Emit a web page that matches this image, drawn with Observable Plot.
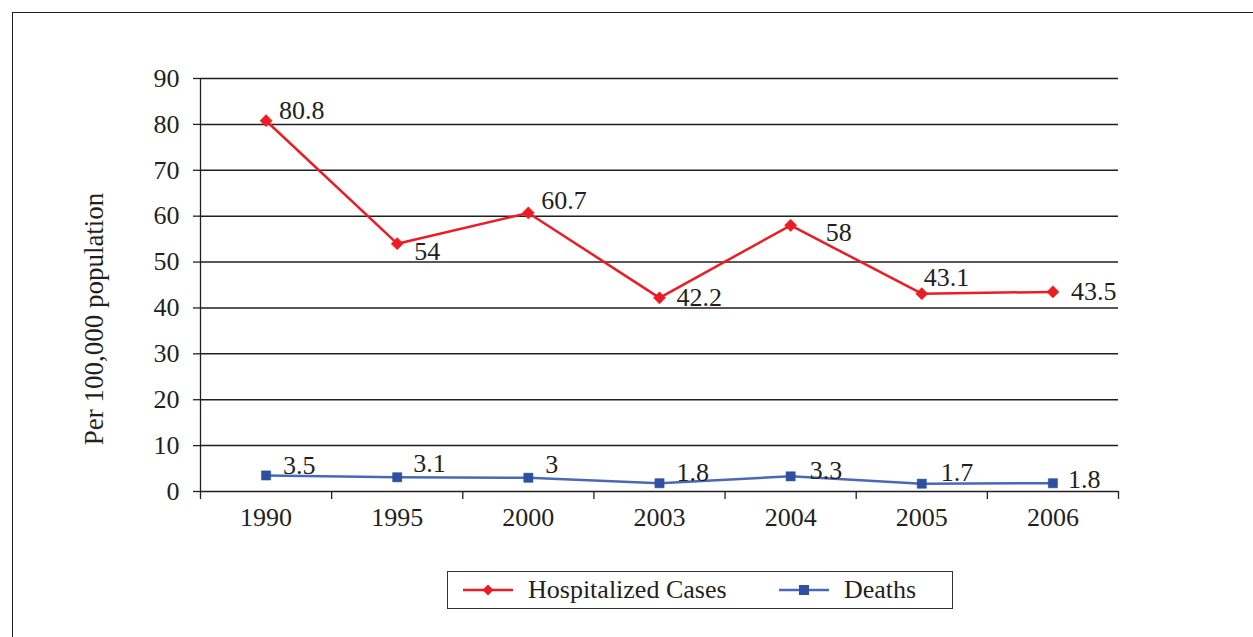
<!DOCTYPE html>
<html>
<head>
<meta charset="utf-8">
<script src="https://cdn.jsdelivr.net/npm/d3@7"></script>
<script src="https://cdn.jsdelivr.net/npm/@observablehq/plot@0.6"></script>
<style>
  html, body { margin: 0; padding: 0; background: #fff; }
  #wrap { position: relative; width: 1253px; height: 637px; overflow: hidden; font-family: "Liberation Serif", "Times New Roman", serif; color: #231f20; }
  #frame { position: absolute; left: 12px; top: 12px; width: 1260px; height: 640px; border-left: 1.5px solid #231f20; border-top: 1.5px solid #231f20; box-sizing: border-box; }
  #chart { position: absolute; left: 0; top: 0; }
  #legend { position: absolute; left: 447px; top: 571px; width: 506px; height: 38px; border: 1.2px solid #333; box-sizing: border-box; background: #fff; }
  .item { position: absolute; top: 0; height: 36px; display: flex; align-items: center; font-size: 26px; }
  .item svg { display: block; margin-right: 15px; }
</style>
</head>
<body>
<div id="wrap">
  <div id="frame"></div>
  <div id="chart"></div>
  <div id="legend"></div>
</div>
<script>
// ---- data ----
const years = ["1990", "1995", "2000", "2003", "2004", "2005", "2006"];
const hospitalized = [80.8, 54, 60.7, 42.2, 58, 43.1, 43.5];
const deaths = [3.5, 3.1, 3, 1.8, 3.3, 1.7, 1.8];
const yTicks = [0, 10, 20, 30, 40, 50, 60, 70, 80, 90];
const seriesNames = ["Hospitalized Cases", "Deaths"];
const yLabel = "Per 100,000 population";

// ---- label nudges (style, px) ----
const hospDx = [13, 17, 13, 17, 35, 2, 18];
const hospDy = [-10, 8, -12, 0, 7, -16, 0];
const deathDx = [17, 16, 17, 17, 19, 19, 15];
const deathDy = [-10, -14, -13, -11, -6, -11, -4];

// ---- styles ----
const ink = "#231f20";
const red = "#ed1c24";
const blueLine = "#4a68b8";
const blueMark = "#2f4fa3";
const FONT = "Liberation Serif, Times New Roman, serif";

const hosp = years.map((y, i) => ({i, year: y, value: hospitalized[i], dx: hospDx[i], dy: hospDy[i]}));
const dead = years.map((y, i) => ({i, year: y, value: deaths[i], dx: deathDx[i], dy: deathDy[i]}));

function labels(data, fill) {
  return data.map(d => Plot.text([d], {
    x: d => d.i + 0.5, y: "value", text: d => String(d.value),
    dx: d.dx, dy: d.dy, textAnchor: "start", lineAnchor: "middle",
    fill, fontSize: 26, fontFamily: FONT
  }));
}

const chart = Plot.plot({
  width: 1253,
  height: 637,
  marginLeft: 200,
  marginRight: 135,
  marginTop: 78,
  marginBottom: 146,
  style: {fontFamily: FONT, color: ink, background: "transparent", overflow: "visible"},
  x: {type: "linear", domain: [0, years.length]},
  y: {type: "linear", domain: [0, 90]},
  marks: [
    Plot.ruleY(yTicks, {stroke: ink, strokeWidth: 1.5}),
    Plot.ruleX([0], {y1: 0, y2: 90, stroke: ink, strokeWidth: 1.3}),
    Plot.axisY({ticks: yTicks, tickSize: 7, tickPadding: 14, fontSize: 26, stroke: ink, strokeWidth: 1.3, fill: ink, label: null}),
    Plot.axisX({ticks: d3.range(0, years.length + 1), tickSize: 8, tickFormat: () => "", stroke: ink, strokeWidth: 1.3, label: null}),
    Plot.axisX({ticks: d3.range(0.5, years.length), tickSize: 0, tickPadding: 16, tickFormat: t => years[Math.floor(t)], fontSize: 26, fill: ink, label: null}),
    Plot.text([yLabel], {frameAnchor: "left", text: d => d, rotate: -90, dx: -106, dy: 34, textAnchor: "middle", lineAnchor: "middle", fontSize: 27, fill: ink, fontFamily: FONT}),
    Plot.line(dead, {x: d => d.i + 0.5, y: "value", stroke: blueLine, strokeWidth: 2.5}),
    Plot.dot(dead, {x: d => d.i + 0.5, y: "value", symbol: "square", r: 5.2, fill: blueMark, stroke: blueMark, strokeWidth: 0.5}),
    Plot.line(hosp, {x: d => d.i + 0.5, y: "value", stroke: red, strokeWidth: 2.5}),
    Plot.dot(hosp, {x: d => d.i + 0.5, y: "value", symbol: "diamond2", r: 5.5, fill: red, stroke: red, strokeWidth: 0.5}),
    ...labels(hosp, ink),
    ...labels(dead, ink)
  ]
});
document.getElementById("chart").appendChild(chart);

// ---- legend ----
const legend = document.getElementById("legend");
const legendItems = [
  {name: seriesNames[0], line: red, mark: red, shape: "diamond", left: 15},
  {name: seriesNames[1], line: blueLine, mark: blueMark, shape: "square", left: 331}
];
legendItems.forEach(it => {
  const div = document.createElement("div");
  div.className = "item";
  div.style.left = it.left + "px";
  const ns = "http://www.w3.org/2000/svg";
  const svg = document.createElementNS(ns, "svg");
  svg.setAttribute("width", 50); svg.setAttribute("height", 20);
  const ln = document.createElementNS(ns, "line");
  ln.setAttribute("x1", 0); ln.setAttribute("x2", 50); ln.setAttribute("y1", 10); ln.setAttribute("y2", 10);
  ln.setAttribute("stroke", it.line); ln.setAttribute("stroke-width", 2.5);
  svg.appendChild(ln);
  let m;
  if (it.shape === "diamond") {
    m = document.createElementNS(ns, "path");
    m.setAttribute("d", "M25,4.5L30.5,10L25,15.5L19.5,10Z");
  } else {
    m = document.createElementNS(ns, "rect");
    m.setAttribute("x", 20); m.setAttribute("y", 5); m.setAttribute("width", 10); m.setAttribute("height", 10);
  }
  m.setAttribute("fill", it.mark);
  svg.appendChild(m);
  div.appendChild(svg);
  const span = document.createElement("span");
  span.textContent = it.name;
  div.appendChild(span);
  legend.appendChild(div);
});
</script>
</body>
</html>
